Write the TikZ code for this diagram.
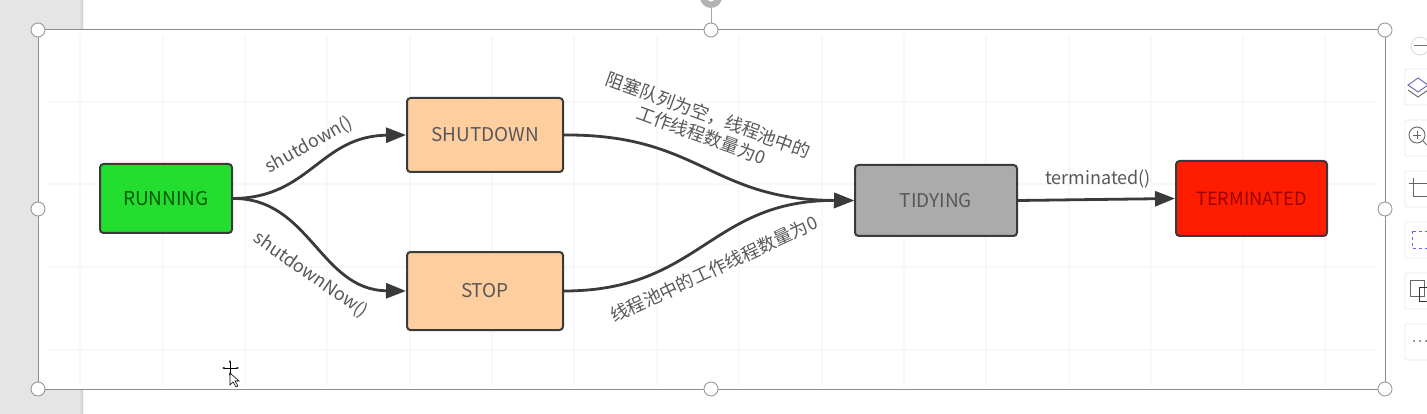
\documentclass[tikz,border=0pt]{standalone}
\usepackage{fontspec}
\setmainfont{Noto Sans CJK SC}
\usetikzlibrary{arrows.meta}
\definecolor{edgeC}{HTML}{3A3A3A}
\definecolor{txtC}{HTML}{585858}
\definecolor{gridC}{HTML}{F8F8F8}
\tikzset{
  state/.style={draw=edgeC,line width=2pt,rounded corners=3.5pt,inner sep=0pt,font=\fontsize{19}{22}\selectfont,text=#1},
  state/.default=txtC,
  link/.style={draw=edgeC,line width=2.8pt,-{Triangle[length=20pt,width=15pt]}},
  lab/.style={text=txtC,font=\fontsize{18}{21}\selectfont,inner sep=0pt,align=center},
  handle/.style={circle,draw=black!40,fill=white,line width=0.9pt,minimum size=14pt,inner sep=0pt},
  toolbtn/.style={draw=black!8,fill=white,line width=0.8pt,rounded corners=2pt},
  ico/.style={draw=black!60,line width=0.9pt},
  gridl/.style={draw=gridC,line width=1.4pt}
}
\begin{document}
\begin{tikzpicture}[x=1pt,y=-1pt]
\useasboundingbox (0,0) rectangle (1427,414);
\fill[white] (0,0) rectangle (1427,414);
\fill[black!10] (0,0) rectangle (79,414);
\shade[left color=black!10,right color=black!20] (79,0) rectangle (83,414);
% selection frame
\draw[fill=white,draw=black!45,line width=1pt] (38,30) rectangle (1385,389);
\coordinate (fr) at (711,30);
% faint grid
\foreach \y in {102,184,267,350}{\draw[gridl] (50,\y) -- (1375,\y);}
\foreach \x in {80,163,245,327,410,492,574,657,739,822,904,986,1069,1151,1243,1325}{\draw[gridl] (\x,35) -- (\x,385);}
% rotate handle
\node[circle,fill=black!30,minimum size=22pt,inner sep=0pt] (rot) at (711,-3) {};
\node[circle,fill=white,minimum size=9pt,inner sep=0pt] (roti) at (711,-3) {};
\draw[draw=black!35,line width=1pt] (rot) -- (fr);
% handles
\node[handle] (h1) at (38,30) {};
\node[handle] (h2) at (711,30) {};
\node[handle] (h3) at (1385,30) {};
\node[handle] (h4) at (38,209) {};
\node[handle] (h5) at (1385,209) {};
\node[handle] (h6) at (38,389) {};
\node[handle] (h7) at (711,389) {};
\node[handle] (h8) at (1385,389) {};
% states
\node[state=black!65!green,fill={rgb,255:red,35;green,222;blue,46},minimum width=132pt,minimum height=69pt] (run) at (166,198.5) {RUNNING};
\node[state,fill={rgb,255:red,255;green,206;blue,159},minimum width=156pt,minimum height=74pt] (shut) at (485,135) {SHUTDOWN};
\node[state,fill={rgb,255:red,255;green,206;blue,159},minimum width=156pt,minimum height=78pt] (stop) at (485,291) {STOP};
\node[state,fill=black!33,minimum width=162pt,minimum height=71pt] (tidy) at (936,200.5) {TIDYING};
\node[state=black!40!red,font=\fontsize{18.2}{22}\selectfont,fill={rgb,255:red,255;green,29;blue,0},minimum width=151pt,minimum height=75pt] (term) at (1251.5,198.5) {TERMINATED};
% connectors
\draw[link] (run.east) .. controls (310,198) and (320,136) .. (shut.west);
\draw[link] (run.east) .. controls (310,198) and (320,290) .. (stop.west);
\draw[link] (shut.east) .. controls (700,134) and (710,200) .. (tidy.west);
\draw[link] (stop.east) .. controls (700,291) and (710,200) .. (tidy.west);
\draw[link] (tidy.east) -- (term.west);
% labels
\node[lab,rotate=29] (l1) at (309,145) {shutdown()};
\node[lab,rotate=-35] (l2) at (311,275) {shutdownNow()};
\node[lab,rotate=-20] (l3) at (705,125) {阻塞队列为空，线程池中的\\工作线程数量为0};
\node[lab,rotate=25] (l4) at (714,269) {线程池中的工作线程数量为0};
\node[lab] (l5) at (1098,179) {terminated()};
% right toolbar
\draw[fill=white,draw=black!12,line width=1pt] (1420,46) circle (9pt);
\draw[black!55,line width=1pt] (1414,46) -- (1427,46);
\foreach \y in {69,120,171,222,273,324}{\draw[toolbtn] (1405,\y) rectangle (1432,\y+36);}
\draw[ico,draw=blue!50!black!60] (1408,85) -- (1418,78) -- (1428,85) -- (1418,92) -- cycle;
\draw[ico] (1408,90) -- (1418,97) -- (1428,90);
\draw[ico] (1417,135) circle (8pt);
\draw[ico] (1417,131) -- (1417,139) (1413,135) -- (1421,135);
\draw[ico] (1423,141) -- (1427,145);
\draw[ico] (1413,178) -- (1413,196) -- (1427,196) (1409,183) -- (1427,183);
\draw[ico,draw=blue!60,dashed] (1412,231) rectangle (1430,248);
\draw[ico] (1410,280) rectangle (1424,296);
\draw[ico,draw=black!80] (1419,287) rectangle (1430,301);
\foreach \x in {1414,1420,1426}{\fill[black!65] (\x,341) circle (1pt);}
% cursor
\coordinate (cur) at (230,373);
\draw[black,line width=0.8pt,<->,>={Stealth[length=3pt]}] (222,368) -- (239,368);
\draw[black,line width=0.8pt,<->,>={Stealth[length=3pt]}] (230,360) -- (230,376);
\draw[fill=white,draw=black,line width=0.6pt] (cur) -- (cur |- 0,385) -- ++(3,-3) -- ++(3,5) -- ++(2,-1) -- ++(-3,-5) -- ++(4,0) -- cycle;
\end{tikzpicture}
\end{document}
